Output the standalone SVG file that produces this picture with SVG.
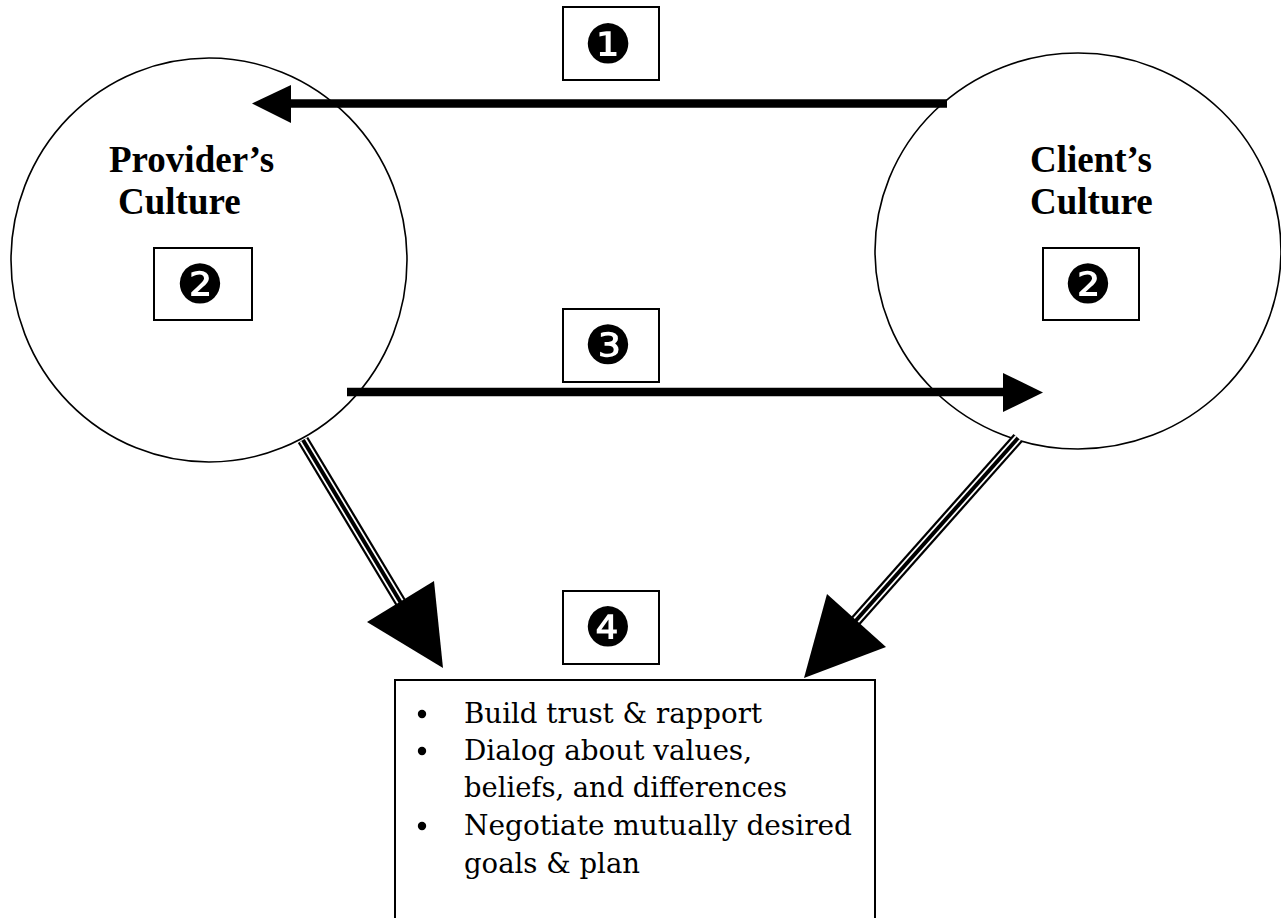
<svg xmlns="http://www.w3.org/2000/svg" width="1281" height="918" viewBox="0 0 1281 918">
<style>
.culture{fill:none;stroke:#000;stroke-width:1.6}
.box{fill:#fff;stroke:#000;stroke-width:2}
.title{font-family:"Liberation Serif",serif;font-weight:bold;font-size:37px;fill:#000}
.num{font-family:"DejaVu Sans",sans-serif;font-size:54px;fill:#000;text-anchor:middle}
.item{font-family:"DejaVu Serif",serif;font-size:28.5px;fill:#000}
.thick{stroke:#000;stroke-width:8.5;fill:none}
.t1{stroke:#000;stroke-width:12;fill:none}
.t2{stroke:#fff;stroke-width:7.5;fill:none}
.t3{stroke:#000;stroke-width:4;fill:none}
</style>
<rect width="1281" height="918" fill="#fff"/>
<g id="provider">
<ellipse class="culture" cx="209" cy="260" rx="198" ry="202"/>
<text class="title" x="109" y="172">Provider’s</text>
<text class="title" x="118" y="214">Culture</text>
</g>
<g id="client">
<ellipse class="culture" cx="1078" cy="251" rx="203" ry="198"/>
<text class="title" x="1030" y="172">Client’s</text>
<text class="title" x="1030" y="214">Culture</text>
</g>
<g id="connectors">
<line class="thick" x1="289" y1="103.5" x2="947" y2="103.5"/>
<polygon points="252,103.5 291,85 291,123" fill="#000"/>
<line class="thick" x1="347" y1="392" x2="1005" y2="392"/>
<polygon points="1043,392.5 1003,373 1003,412" fill="#000"/>
<g>
<line class="t1" x1="303" y1="440" x2="404" y2="608"/>
<line class="t2" x1="303" y1="440" x2="404" y2="608"/>
<line class="t3" x1="303" y1="440" x2="404" y2="608"/>
<polygon points="367,622 434,581 443,668" fill="#000"/>
</g>
<g>
<line class="t1" x1="1018" y1="438" x2="852" y2="625"/>
<line class="t2" x1="1018" y1="438" x2="852" y2="625"/>
<line class="t3" x1="1018" y1="438" x2="852" y2="625"/>
<polygon points="827,594 886,647 804,678" fill="#000"/>
</g>
</g>
<g id="step1">
<rect class="box" x="563" y="7" width="96" height="73"/>
<text class="num" x="608" y="62.5">❶</text>
</g>
<g id="step2-provider">
<rect class="box" x="154" y="248" width="98" height="72"/>
<text class="num" x="200" y="303">❷</text>
</g>
<g id="step2-client">
<rect class="box" x="1043" y="248" width="96" height="72"/>
<text class="num" x="1088" y="303">❷</text>
</g>
<g id="step3">
<rect class="box" x="563" y="309" width="96" height="73"/>
<text class="num" x="608" y="364">❸</text>
</g>
<g id="step4">
<rect class="box" x="563" y="591" width="96" height="73"/>
<text class="num" x="608" y="646">❹</text>
</g>
<g id="actions">
<rect class="box" x="395" y="680" width="480" height="260"/>
<circle cx="422" cy="714" r="4.2"/>
<circle cx="422" cy="751" r="4.2"/>
<circle cx="422" cy="826" r="4.2"/>
<text class="item" x="464" y="723" textLength="298" lengthAdjust="spacingAndGlyphs">Build trust &amp; rapport</text>
<text class="item" x="464" y="760" textLength="288" lengthAdjust="spacingAndGlyphs">Dialog about values,</text>
<text class="item" x="464" y="797" textLength="323" lengthAdjust="spacingAndGlyphs">beliefs, and differences</text>
<text class="item" x="464" y="835" textLength="388" lengthAdjust="spacingAndGlyphs">Negotiate mutually desired</text>
<text class="item" x="464" y="873" textLength="176" lengthAdjust="spacingAndGlyphs">goals &amp; plan</text>
</g>
</svg>
